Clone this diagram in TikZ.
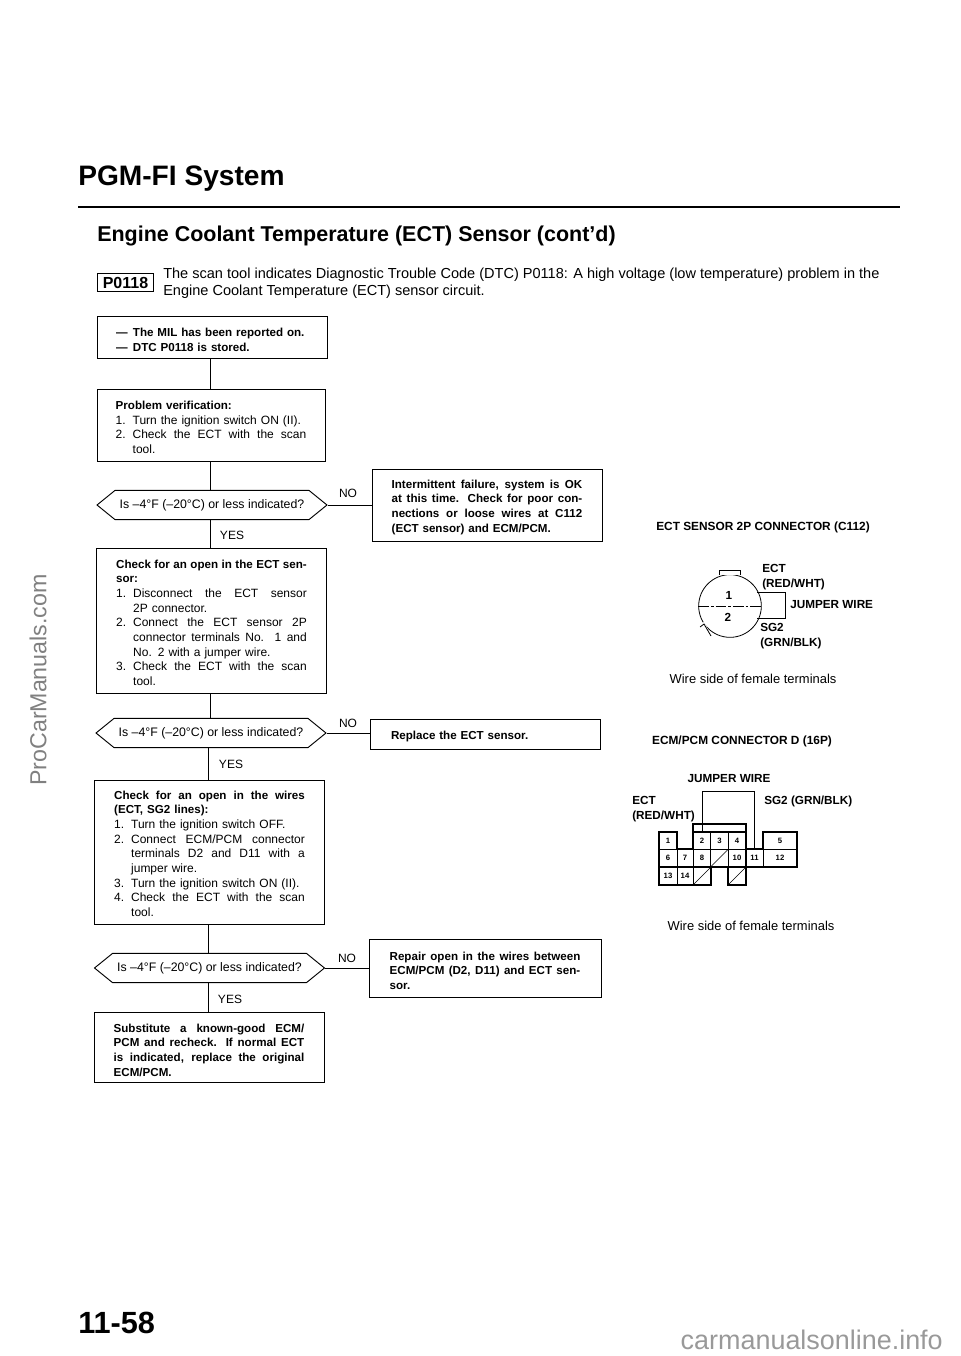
\documentclass[tikz,border=0pt]{standalone}
\usepackage{fontspec}
\setmainfont{Liberation Sans}
\usetikzlibrary{shapes.symbols}
% lines set out to a given width, and the hanging indent of the numbered steps
\newcommand{\sized}[2]{\makebox[#1][s]{\spaceskip=0pt \xspaceskip=0pt #2}}
\newcommand{\fl}[1]{\sized{143pt}{#1}}
\newcommand{\fli}[1]{\ind\sized{130.25pt}{#1}}
\newcommand{\ind}{\hspace*{12.75pt}}
\newcommand{\nm}[1]{\makebox[12.75pt][l]{#1}}
\newcommand{\hd}{\bfseries\fontsize{8.7}{11}\selectfont}
\begin{document}
\begin{tikzpicture}[x=0.75pt,y=-0.75pt,
    flowbox/.style = {shape = rectangle,
                      draw,
                      line width=0.7pt,
                      inner sep=0pt,
                      font=\fontsize{9}{11}\selectfont},
    boxtext/.style = {flowbox, align=left, text width=143pt},
    boldtext/.style = {boxtext, font=\fontsize{8.7}{11}\selectfont\bfseries},
    textdown/.style = {execute at begin node={\rule{0pt}{#1}}},
    query/.style = {shape = signal,
                    signal to=west and east,
                    signal pointer angle=78,
                    draw,
                    line width=0.7pt,
                    inner sep=0pt,
                    minimum width=172.5pt,
                    minimum height=22pt,
                    font=\fontsize{9.25}{10}\selectfont},
    plain/.style = {inner sep=0pt, font=\fontsize{9}{10}\selectfont},
    caption/.style = {inner sep=0pt, font=\fontsize{9.7}{11}\selectfont},
    contitle/.style = {inner sep=0pt, font=\fontsize{8.9}{10}\selectfont\bfseries},
    conlabel/.style = {inner sep=0pt, anchor=west, align=left,
                       font=\fontsize{8.8}{11.2}\selectfont\bfseries},
    pincell/.style = {shape = rectangle,
                      draw,
                      line width=0.5pt,
                      inner sep=0pt,
                      minimum height=13.2pt,
                      font=\fontsize{5.8}{6}\selectfont\bfseries},
    flowline/.style = {line width=0.6pt}]
    \useasboundingbox (0,0) rectangle (960,1356);
    % page heading
    \node[inner sep=0pt, anchor=west, font=\fontsize{21.1}{24}\selectfont\bfseries] (title) at (78,179) {PGM-FI System};
    \node[inner sep=0pt, anchor=west, font=\fontsize{16.1}{18}\selectfont\bfseries] (subtitle) at (97,236) {Engine Coolant Temperature (ECT) Sensor (cont'd)};
    \coordinate (ruleleft) at (78,207);
    \coordinate (ruleright) at (900,207);
    \draw[line width=1.4pt] (ruleleft) -- (ruleright);
    \node[draw, line width=0.9pt, inner sep=0pt, minimum width=42pt, minimum height=14pt,
          font=\fontsize{12}{14}\selectfont\bfseries] (code) at (125.5,282.5) {P0118};
    \node[inner sep=0pt, anchor=west, align=left, font=\fontsize{10.9}{12.4}\selectfont] (intro) at (163,283)
        {The scan tool indicates Diagnostic Trouble Code (DTC) P0118: A high voltage (low temperature) problem in the\\
         Engine Coolant Temperature (ECT) sensor circuit.};
    % left column
    \node[boldtext, textdown=9.6pt, text width=144pt, minimum width=172.5pt, minimum height=32pt] (reported) at (212,337.5)
        {\nm{—}The MIL has been reported on.\\ \nm{—}DTC P0118 is stored.};
    \node[boxtext, textdown=9.6pt, minimum width=171pt, minimum height=54pt] (verify) at (211,425)
        {{\hd Problem verification:}\\
         \nm{1.}Turn the ignition switch ON (II).\\
         \fl{\nm{2.}Check the ECT with the scan}\\
         \ind tool.};
    \node[query] (ask1) at (212,505) {Is –4°F (–20°C) or less indicated?};
    \node[boxtext, textdown=9.6pt, minimum width=172pt, minimum height=108.75pt] (opensen) at (211.5,620.5)
        {\fl{\hd Check for an open in the ECT sen-}\\
         {\hd sor:}\\
         \fl{\nm{1.}Disconnect the ECT sensor}\\
         \ind 2P connector.\\
         \fl{\nm{2.}Connect the ECT sensor 2P}\\
         \fli{connector terminals No. 1 and}\\
         \ind No. 2 with a jumper wire.\\
         \fl{\nm{3.}Check the ECT with the scan}\\
         \ind tool.};
    \node[query] (ask2) at (211,733) {Is –4°F (–20°C) or less indicated?};
    \node[boxtext, textdown=8.8pt, minimum width=173pt, minimum height=108pt] (openwire) at (209.5,852)
        {\fl{\hd Check for an open in the wires}\\
         {\hd (ECT, SG2 lines):}\\
         \nm{1.}Turn the ignition switch OFF.\\
         \fl{\nm{2.}Connect ECM/PCM connector}\\
         \fli{terminals D2 and D11 with a}\\
         \ind jumper wire.\\
         \nm{3.}Turn the ignition switch ON (II).\\
         \fl{\nm{4.}Check the ECT with the scan}\\
         \ind tool.};
    \node[query] (ask3) at (209.5,968) {Is –4°F (–20°C) or less indicated?};
    \node[boldtext, textdown=10.4pt, minimum width=172.5pt, minimum height=53pt] (substitute) at (209,1047.5)
        {\fl{Substitute a known-good ECM/}\\
         \fl{PCM and recheck. If normal ECT}\\
         \fl{is indicated, replace the original}\\
         ECM/PCM.};
    % right column
    \node[boldtext, textdown=9.6pt, minimum width=172.5pt, minimum height=54pt] (failure) at (487,505)
        {\fl{Intermittent failure, system is OK}\\
         \fl{at this time. Check for poor con-}\\
         \fl{nections or loose wires at C112}\\
         (ECT sensor) and ECM/PCM.};
    \node[boldtext, textdown=9.6pt, text width=141pt, minimum width=172.5pt, minimum height=22pt] (replace) at (485,734.5)
        {Replace the ECT sensor.};
    \node[boldtext, textdown=10.4pt, minimum width=174pt, minimum height=43.5pt] (repair) at (485,968)
        {\fl{Repair open in the wires between}\\
         \fl{ECM/PCM (D2, D11) and ECT sen-}\\
         sor.};
    % flow lines
    \foreach \a/\b/\lx in {reported/verify/210, verify/ask1/210, ask1/opensen/210, opensen/ask2/210,
                           ask2/openwire/208, openwire/ask3/208, ask3/substitute/208}
        \draw[flowline] (\a.south -| \lx,0) -- (\b.north -| \lx,0);
    \draw[flowline] (ask1.east) -- (ask1.east -| failure.west);
    \draw[flowline] (ask2.east) -- (ask2.east -| replace.west);
    \draw[flowline] (ask3.east) -- (ask3.east -| repair.west);
    \node[plain] (no1) at (348,493) {NO};
    \node[plain] (no2) at (348,723) {NO};
    \node[plain] (no3) at (347,958) {NO};
    \node[plain] (yes1) at (232,535) {YES};
    \node[plain] (yes2) at (231,764) {YES};
    \node[plain] (yes3) at (230,999) {YES};
    % ECT sensor connector
    \node[contitle] (sensortitle) at (763,527) {ECT SENSOR 2P CONNECTOR (C112)};
    \node[circle, draw, line width=0.6pt, inner sep=0pt, minimum size=47pt] (plug) at (730,606) {};
    \draw[line width=0.6pt, fill=white] (719,575) -- (719,570.5) -- (740,570.5) -- (740,575);
    \draw[fill=white, draw=white] (701,626.5) -- (711,636) -- (704,622) -- cycle;
    \draw[line width=0.6pt] (700,627) -- (704,624) -- (711,636);
    \draw[line width=0.5pt, dash pattern=on 8pt off 1.5pt on 2pt off 1.5pt] (plug.west) -- (plug.east);
    \node[inner sep=0pt, font=\fontsize{8.8}{9}\selectfont\bfseries] (pinone) at (729,595) {1};
    \node[inner sep=0pt, font=\fontsize{8.8}{9}\selectfont\bfseries] (pintwo) at (728,617) {2};
    \coordinate (ectend) at (757,592);
    \coordinate (sgend) at (757,618);
    \draw[line width=0.7pt] (ectend) -- (785,592) -- (785,618) -- (sgend);
    \node[conlabel] (ectlabel) at (762,577) {ECT\\(RED/WHT)};
    \node[conlabel] (jumperlabel) at (790,605) {JUMPER WIRE};
    \node[conlabel] (sglabel) at (760,636.5) {SG2\\(GRN/BLK)};
    \node[caption] (sensorside) at (753,679) {Wire side of female terminals};
    % ECM connector
    \node[contitle] (ecmtitle) at (742,741) {ECM/PCM CONNECTOR D (16P)};
    \foreach \n/\px/\py/\w in {1/668/840.5/13.5, 2/702/840.5/13.2, 3/719.5/840.5/13.2, 4/737/840.5/13.2, 5/780/840.5/25.5,
                               6/668/858/13.5, 7/685/858/12, 8/702/858/13.2, 10/737/858/13.2, 11/754.5/858/12.8, 12/780/858/25.5,
                               13/668/876/13.5, 14/685/876/12}
        \node[pincell, minimum width=\w pt] (pin\n) at (\px,\py) {\n};
    \foreach \n/\px/\py in {a/719.5/858, b/702/876, c/737/876} {
        \node[pincell, minimum width=13.2pt] (blank\n) at (\px,\py) {};
        \draw[line width=0.5pt] (blank\n.south west) -- (blank\n.north east);
    }
    \draw[line width=1pt] (659,832) -- (677,832) -- (677,849) -- (693,849) -- (693,832) -- (746,832) -- (746,849)
        -- (763,849) -- (763,832) -- (797,832) -- (797,867) -- (746,867) -- (746,885) -- (728,885) -- (728,867)
        -- (711,867) -- (711,885) -- (659,885) -- cycle;
    \node[draw, line width=0.9pt, inner sep=0pt, minimum width=39.75pt, minimum height=6pt] (cap) at (719.5,828) {};
    \coordinate (jumpertop) at (730,791);
    \draw[line width=0.6pt] (pin2.north) |- (jumpertop) -| (pin11.north);
    \node[conlabel] (ecmect) at (632,809.5) {ECT\\(RED/WHT)};
    \node[conlabel, anchor=center] (ecmjumper) at (729,779) {JUMPER WIRE};
    \node[conlabel] (ecmsg) at (764,801) {SG2 (GRN/BLK)};
    \node[caption] (ecmside) at (751,926) {Wire side of female terminals};
    % page number and site marks
    \node[inner sep=0pt, anchor=west, font=\fontsize{23}{26}\selectfont\bfseries] (pageno) at (78,1323) {11-58};
    \node[inner sep=0pt, rotate=90, text=black!50, font=\fontsize{17.4}{20}\selectfont] (sitemark) at (38,680) {ProCarManuals.com};
    \node[inner sep=0pt, anchor=east, text=black!40, font=\fontsize{20.2}{23}\selectfont] (footmark) at (943,1340) {carmanualsonline.info};
\end{tikzpicture}
\end{document}
